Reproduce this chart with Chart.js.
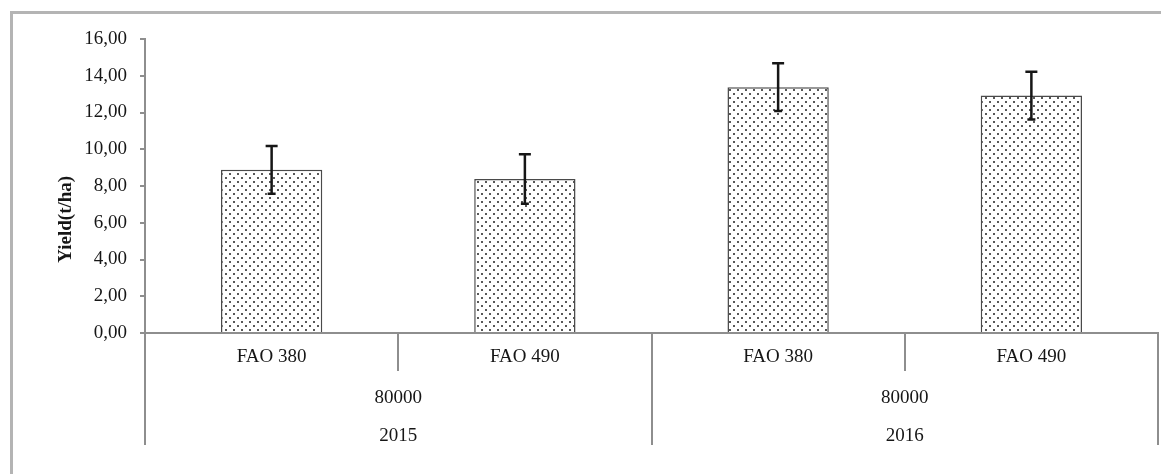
<!DOCTYPE html>
<html>
<head>
<meta charset="utf-8">
<script src="https://cdn.jsdelivr.net/npm/chart.js@4.4.0/dist/chart.umd.min.js"></script>
<style>
  body { margin: 0; background: #fff; overflow: hidden; }
  #frame { position: absolute; left: 10px; top: 11px; width: 2000px; height: 2000px;
           border-top: 3px solid #b4b4b4; border-left: 3px solid #b4b4b4; }
  #wrap { position: absolute; left: 0; top: 0; width: 1161px; height: 474px; }
</style>
</head>
<body>
<div id="frame"></div>
<div id="wrap"><canvas id="myChart" width="1161" height="474"></canvas></div>
<script>
'use strict';
const cultivars = ['FAO 380','FAO 490','FAO 380','FAO 490'];
const densities = ['80000','80000'];
const years = ['2015','2016'];
const yieldMeans = [8.88, 8.38, 13.38, 12.92];
const yieldErrors = [1.30, 1.35, 1.30, 1.30];
const yMin = 0;
const yMax = 16;
const yStep = 2;

const serif = 'Liberation Serif';
const lineGray = '#8e8e8e';

// dotted fill like the original
function dotPattern(){
  let c = document.createElement('canvas');
  c.width = 8;
  c.height = 8;
  let g = c.getContext('2d');
  g.fillStyle = '#fff';
  g.fillRect(0,0,8,8);
  g.fillStyle = '#585858';
  g.fillRect(1,1,2,2);
  g.fillRect(5,5,2,2);
  return g.createPattern(c,'repeat');
}

const errorBars = {
  id: 'errorBars',
  afterDatasetsDraw(chart){
    const ctx = chart.ctx;
    const y = chart.scales.y;
    const meta = chart.getDatasetMeta(0);
    ctx.save();
    ctx.strokeStyle = '#161616';
    ctx.lineWidth = 2.5;
    meta.data.forEach(function(bar, i){
      let top = y.getPixelForValue(yieldMeans[i] + yieldErrors[i]);
      let bot = y.getPixelForValue(yieldMeans[i] - yieldErrors[i]);
      ctx.beginPath();
      ctx.moveTo(bar.x, top);
      ctx.lineTo(bar.x, bot);
      ctx.moveTo(bar.x - 6, top);
      ctx.lineTo(bar.x + 6, top);
      ctx.moveTo(bar.x - 4, bot);
      ctx.lineTo(bar.x + 4, bot);
      ctx.stroke();
    });
    ctx.restore();
  }
};

let ctx = document.getElementById('myChart').getContext('2d');
let chart = new Chart(ctx, {
  type: 'bar',
  data: {
    labels: cultivars,
    datasets: [{
      label: 'Yield',
      data: yieldMeans,
      backgroundColor: dotPattern(),
      borderColor: '#4a4a4a',
      borderWidth: 1.5,
      barPercentage: 0.4,
      categoryPercentage: 1.0
    }]
  },
  options: {
    responsive: false,
    animation: false,
    layout: { padding: { left: 12, top: 39, right: 3, bottom: 0 } },
    plugins: { legend: { display: false }, tooltip: { enabled: false } },
    scales: {
      x: {
        position: 'bottom',
        offset: true,
        grid: { offset: true, drawOnChartArea: false, tickLength: 38, color: lineGray, lineWidth: 2 },
        border: { display: true, color: lineGray, width: 2 },
        ticks: { color: '#161616', padding: -25, maxRotation: 0, autoSkip: false,
                 font: { family: serif, size: 19 } },
        afterFit: function(scale){ scale.height = 38; }
      },
      x2: {
        type: 'category',
        position: 'bottom',
        labels: densities.map(function(d, i){ return [d, years[i]]; }),
        offset: true,
        grid: { offset: true, drawOnChartArea: false, tickLength: 74, color: lineGray, lineWidth: 2 },
        border: { display: false },
        ticks: { color: '#161616', padding: -66, maxRotation: 0, autoSkip: false,
                 font: { family: serif, size: 19, lineHeight: 2 } },
        afterFit: function(scale){ scale.height = 103; }
      },
      y: {
        min: yMin,
        max: yMax,
        grid: { drawOnChartArea: false, tickLength: 5, color: lineGray, lineWidth: 2 },
        border: { display: true, color: lineGray, width: 2 },
        ticks: {
          stepSize: yStep,
          padding: 13,
          color: '#161616',
          font: { family: serif, size: 19 },
          callback: function(v){ return v.toFixed(2).replace('.', ','); }
        },
        title: {
          display: true,
          text: 'Yield(t/ha)' + ' '.repeat(14),
          color: '#161616',
          font: { family: serif, size: 19, weight: 'bold' },
          padding: { top: 43, bottom: 0 }
        },
        afterFit: function(scale){ scale.width = 133; }
      }
    }
  },
  plugins: [errorBars]
});
</script>
</body>
</html>
